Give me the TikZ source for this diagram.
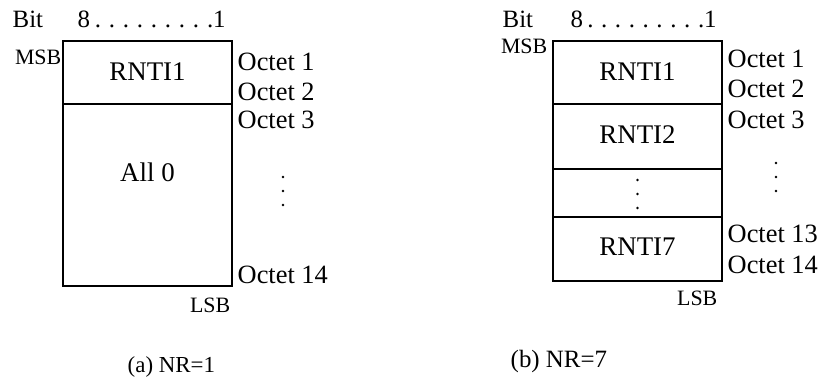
\documentclass[tikz,border=0pt]{standalone}
\usepackage{fontspec}
\setmainfont{Liberation Serif}
\begin{document}
\begin{tikzpicture}[x=1bp,y=-1bp,line width=1.4bp,
  fld/.style={draw, minimum width=169bp, inner sep=0pt, outer sep=0pt, anchor=north west},
  txt/.style={font=\fontsize{27}{27}\selectfont, inner sep=0pt, anchor=base},
  lbl/.style={font=\fontsize{26.5}{26.5}\selectfont, inner sep=0pt, anchor=base west},
  sml/.style={font=\fontsize{22}{22}\selectfont, inner sep=0pt, anchor=base east},
  bitl/.style={font=\fontsize{25}{25}\selectfont, inner sep=0pt, anchor=base west},
  vdot/.style={fill, circle, inner sep=0pt, minimum size=2.8bp}]
\useasboundingbox (0,0) rectangle (828,389);
% ---- (a) ----
\node[bitl] (abit) at (12,27) {Bit};
\node[bitl] (abits) at (77,27) {\makebox[148bp][s]{8 . . . . . . . . .1}};
\node[fld, minimum height=63bp] (a1) at (63,41) {};
\node[fld, minimum height=182bp] (a2) at (63,104) {};
\node[txt] (ta1) at (147.5,80) {RNTI1};
\node[txt] (ta2) at (147.5,181) {All 0};
\node[sml] (amsb) at (62,64) {MSB};
\node[sml] (alsb) at (231,312) {LSB};
\node[lbl] (ao1) at (237,70) {Octet 1};
\node[lbl] (ao2) at (237,100) {Octet 2};
\node[lbl] (ao3) at (237,128) {Octet 3};
\node[vdot] (aod1) at (283,177) {};
\node[vdot] (aod2) at (283,191) {};
\node[vdot] (aod3) at (283,205) {};
\node[lbl] (ao14) at (237,283) {Octet 14};
\node[font=\fontsize{23}{23}\selectfont, inner sep=0pt, anchor=base west] (capa) at (127,372) {(a) NR=1};
% ---- (b) ----
\node[bitl] (bbit) at (502,27) {Bit};
\node[bitl] (bbits) at (570,27) {\makebox[143bp][s]{8 . . . . . . . . .1}};
\node[fld, minimum height=63bp] (b1) at (553,41) {};
\node[fld, minimum height=65bp] (b2) at (553,104) {};
\node[fld, minimum height=48bp] (b3) at (553,169) {};
\node[fld, minimum height=64bp] (b4) at (553,217) {};
\node[txt] (tb1) at (637.5,80) {RNTI1};
\node[txt] (tb2) at (637.5,143) {RNTI2};
\node[vdot] (tbd1) at (637.5,180) {};
\node[vdot] (tbd2) at (637.5,194) {};
\node[vdot] (tbd3) at (637.5,208) {};
\node[txt] (tb4) at (637.5,255) {RNTI7};
\node[sml] (bmsb) at (548,53) {MSB};
\node[sml] (blsb) at (718,305) {LSB};
\node[lbl] (bo1) at (727,67) {Octet 1};
\node[lbl] (bo2) at (727,97) {Octet 2};
\node[lbl] (bo3) at (727,128) {Octet 3};
\node[vdot] (bod1) at (776,163) {};
\node[vdot] (bod2) at (776,177) {};
\node[vdot] (bod3) at (776,191) {};
\node[lbl] (bo13) at (727,242) {Octet 13};
\node[lbl] (bo14) at (727,273) {Octet 14};
\node[font=\fontsize{25}{25}\selectfont, inner sep=0pt, anchor=base west] (capb) at (510,367) {(b) NR=7};
\end{tikzpicture}
\end{document}
